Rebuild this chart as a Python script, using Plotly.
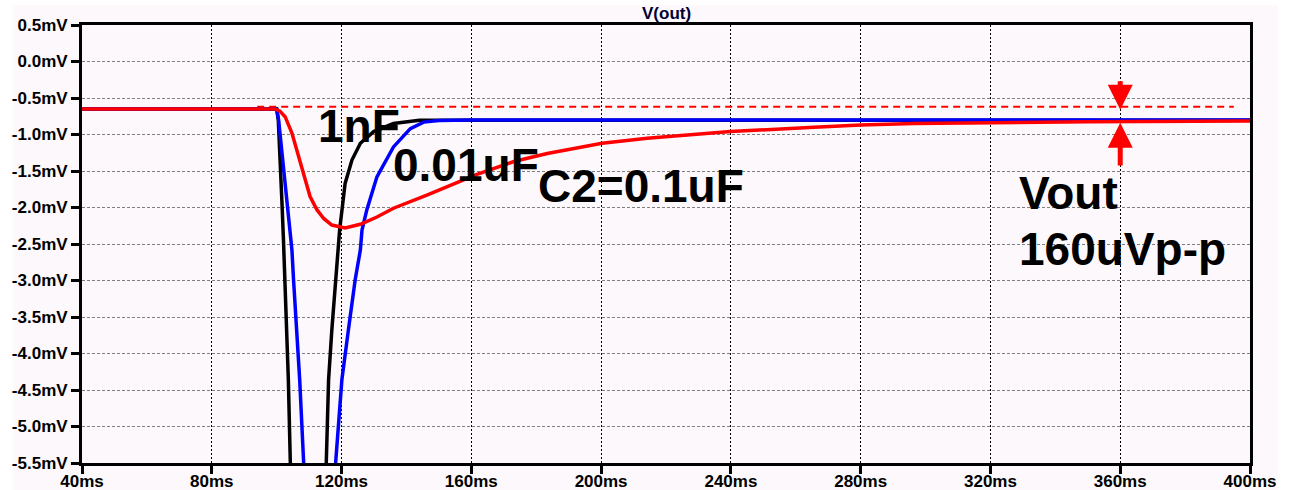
import plotly.graph_objects as go

# ---------------- data (ms, mV) ----------------
t_1nF = [40, 100, 100.5, 101, 101.6, 102.1, 102.6, 103.1, 103.6, 104.2, 104.5,
         109.8, 115.0, 115.3, 116.0, 117.0, 118.1, 119.4, 121.1, 123.2, 125.8,
         129.9, 136.0, 144.0, 400]
v_1nF = [-0.65, -0.65, -0.80, -1.21, -1.90, -2.45, -2.99, -3.68, -4.36, -5.48, -6.0,
         -9.0, -6.0, -5.48, -4.36, -3.68, -2.99, -2.31, -1.67, -1.35, -1.12,
         -0.96, -0.85, -0.805, -0.805]

t_10nF = [40, 100, 100.6, 101.6, 103.1, 104.2, 104.7, 105.2, 106.2, 107.1, 108.3, 108.7,
          113.0, 117.9, 118.2, 120.1, 122.1, 124.2, 125.8, 126.3, 127.8, 130.9,
          136.0, 141.2, 145.3, 150.0, 160.0, 400]
v_10nF = [-0.65, -0.65, -0.80, -1.21, -1.90, -2.31, -2.58, -2.99, -3.68, -4.36, -5.48, -6.0,
          -9.0, -6.0, -5.48, -4.36, -3.68, -2.99, -2.58, -2.31, -2.03, -1.58,
          -1.17, -0.92, -0.83, -0.807, -0.80, -0.80]

t_100nF = [40, 99.5, 101.0, 102.6, 104.7, 106.2, 107.8, 108.8, 110.3, 112.4, 114.5,
           117.0, 121.1, 125.8, 130.9, 136.0, 146.3, 161.5, 173.1, 183.4, 200.3,
           214.2, 239.9, 265.6, 280.0, 296.5, 317.0, 350.0, 400]
v_100nF = [-0.65, -0.65, -0.68, -0.756, -0.98, -1.21, -1.44, -1.62, -1.85, -2.03, -2.15,
           -2.24, -2.28, -2.23, -2.13, -2.01, -1.83, -1.55, -1.37, -1.26, -1.12,
           -1.05, -0.96, -0.90, -0.87, -0.85, -0.84, -0.825, -0.815]

t_ref = [94, 395]
v_ref = [-0.62, -0.62]

x_ticks = [40, 80, 120, 160, 200, 240, 280, 320, 360, 400]
x_labels = [f"{v}ms" for v in x_ticks]
y_ticks = [0.5, 0.0, -0.5, -1.0, -1.5, -2.0, -2.5, -3.0, -3.5, -4.0, -4.5, -5.0, -5.5]
y_labels = [f"{v:.1f}mV" for v in y_ticks]

labels = ["1nF", "0.01uF", "C2=0.1uF", "Vout", "160uVp-p"]
label_t = [112.2, 135.3, 180.0, 328.1, 328.1]
label_v = [-0.877, -1.418, -1.699, -1.808, -2.562]

arrow_t = 360
arrow_top = [-0.25, -0.66]   # tail, tip
arrow_bot = [-1.445, -0.838]  # tail, tip

# ---------------- figure ----------------
BG = "#FCF8FC"
FONT = "Liberation Sans"
fig = go.Figure()
fig.add_trace(go.Scatter(x=t_ref, y=v_ref, mode="lines",
                         line=dict(color="#FF0000", width=2, dash="7px,5px"),
                         hoverinfo="skip"))
fig.add_trace(go.Scatter(x=t_1nF, y=v_1nF, mode="lines",
                         line=dict(color="#000000", width=3.5)))
fig.add_trace(go.Scatter(x=t_10nF, y=v_10nF, mode="lines",
                         line=dict(color="#0000FF", width=3.5)))
fig.add_trace(go.Scatter(x=t_100nF, y=v_100nF, mode="lines",
                         line=dict(color="#FF0000", width=3.5)))

annotations = []
for txt, tx, vy in zip(labels, label_t, label_v):
    annotations.append(dict(x=tx, y=vy, xref="x", yref="y", text=txt,
                            showarrow=False, xanchor="left", yanchor="middle",
                            font=dict(family=FONT, size=46,
                                      color="#000000", weight="bold")))
for tail, tip in (arrow_top, arrow_bot):
    annotations.append(dict(x=arrow_t, y=tip, ax=arrow_t, ay=tail,
                            xref="x", yref="y", axref="x", ayref="y",
                            text="", showarrow=True, arrowhead=2,
                            arrowsize=1.0, arrowwidth=5, arrowcolor="#FF0000"))
annotations.append(dict(x=0.5, y=1, xref="paper", yref="paper", text="V(out)",
                        showarrow=False, xanchor="center", yanchor="bottom",
                        font=dict(family=FONT, size=17,
                                  color="#000033", weight="bold")))

tickfont = dict(family=FONT, size=17, color="#000000", weight="bold")
fig.update_layout(
    width=1290, height=490,
    margin=dict(l=82, r=40, t=25, b=27),
    paper_bgcolor="#FFFFFF", plot_bgcolor=BG,
    showlegend=False,
    annotations=annotations,
    shapes=[dict(type="rect", xref="paper", yref="paper",
                 x0=-0.059, x1=1.024, y0=-0.07, y1=1.0457,
                 fillcolor=BG, line=dict(width=0), layer="below")],
    xaxis=dict(range=[40, 400], tickvals=x_ticks, ticktext=x_labels,
               automargin=False, ticklabelstandoff=-7,
               showline=True, mirror=True, linewidth=3, linecolor="#000000",
               ticks="outside", ticklen=8, tickwidth=3, tickcolor="#000000",
               showgrid=True, gridcolor="#000000", gridwidth=1, griddash="2px,2px",
               zeroline=False, tickfont=tickfont),
    yaxis=dict(range=[-5.5, 0.5], tickvals=y_ticks, ticktext=y_labels,
               automargin=False,
               showline=True, mirror=True, linewidth=3, linecolor="#000000",
               ticks="outside", ticklen=8, tickwidth=3, tickcolor="#000000",
               showgrid=True, gridcolor="#808080", gridwidth=1, griddash="3px,2px",
               zeroline=False, tickfont=tickfont),
)

fig.write_html("out.html")
